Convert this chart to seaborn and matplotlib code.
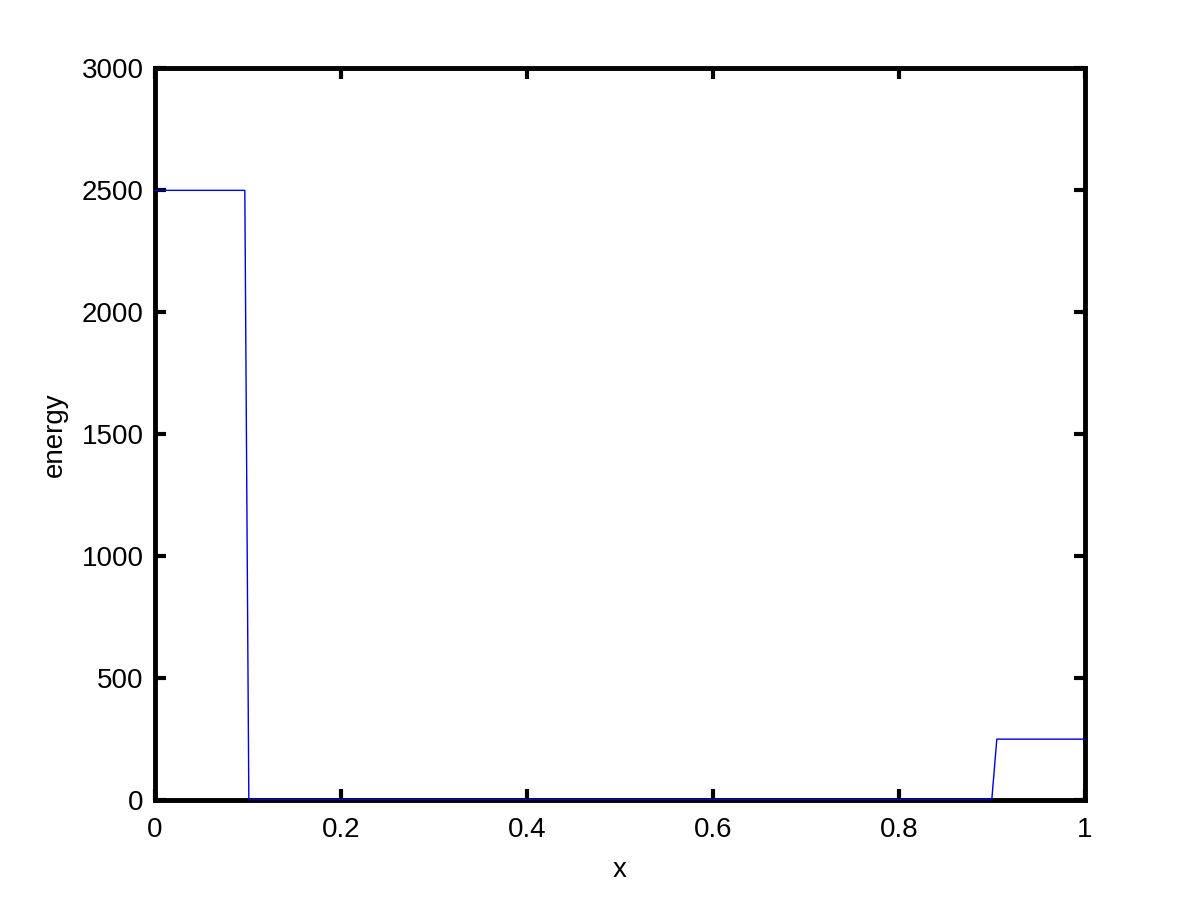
import matplotlib
matplotlib.use("Agg")
import matplotlib.pyplot as plt
import seaborn as sns
import pandas as pd

# step profile
x = [0.0, 0.0968, 0.1011, 0.9000, 0.9054, 1.0]
energy = [2500, 2500, 2, 2, 250, 250]

xticks = [0, 0.2, 0.4, 0.6, 0.8, 1]
xticklabels = ["0", "0.2", "0.4", "0.6", "0.8", "1"]
yticks = [0, 500, 1000, 1500, 2000, 2500, 3000]

sns.set_style("white")
plt.rcParams['font.family'] = ['Liberation Sans', 'DejaVu Sans']

df = pd.DataFrame({"x": x, "energy": energy})

fig = plt.figure(figsize=(12, 9), dpi=100)
ax = fig.add_axes([0.129, 0.111, 0.775, 0.813])
sns.lineplot(data=df, x="x", y="energy", ax=ax, sort=False, estimator=None,
             color="#0000dd", linewidth=1.0, zorder=5)
for ln in ax.lines:
    ln.set_clip_on(False)

ax.set_xlim(0, 1)
ax.set_ylim(0, 3000)
ax.set_xticks(xticks)
ax.set_xticklabels(xticklabels)
ax.set_yticks(yticks)
ax.tick_params(axis="x", pad=12)
ax.tick_params(direction="in", length=8, width=3, bottom=True, left=True,
               top=True, right=True, labelsize=20, colors="black")
ax.tick_params(axis="y", pad=8)
for s in ax.spines.values():
    s.set_linewidth(3.5)
    s.set_color("black")
    s.set_visible(True)
ax.set_xlabel("x", fontsize=20, labelpad=10, color="black")
ax.set_ylabel("energy", fontsize=20, labelpad=10, color="black")

fig.savefig("out.png", dpi=100)
